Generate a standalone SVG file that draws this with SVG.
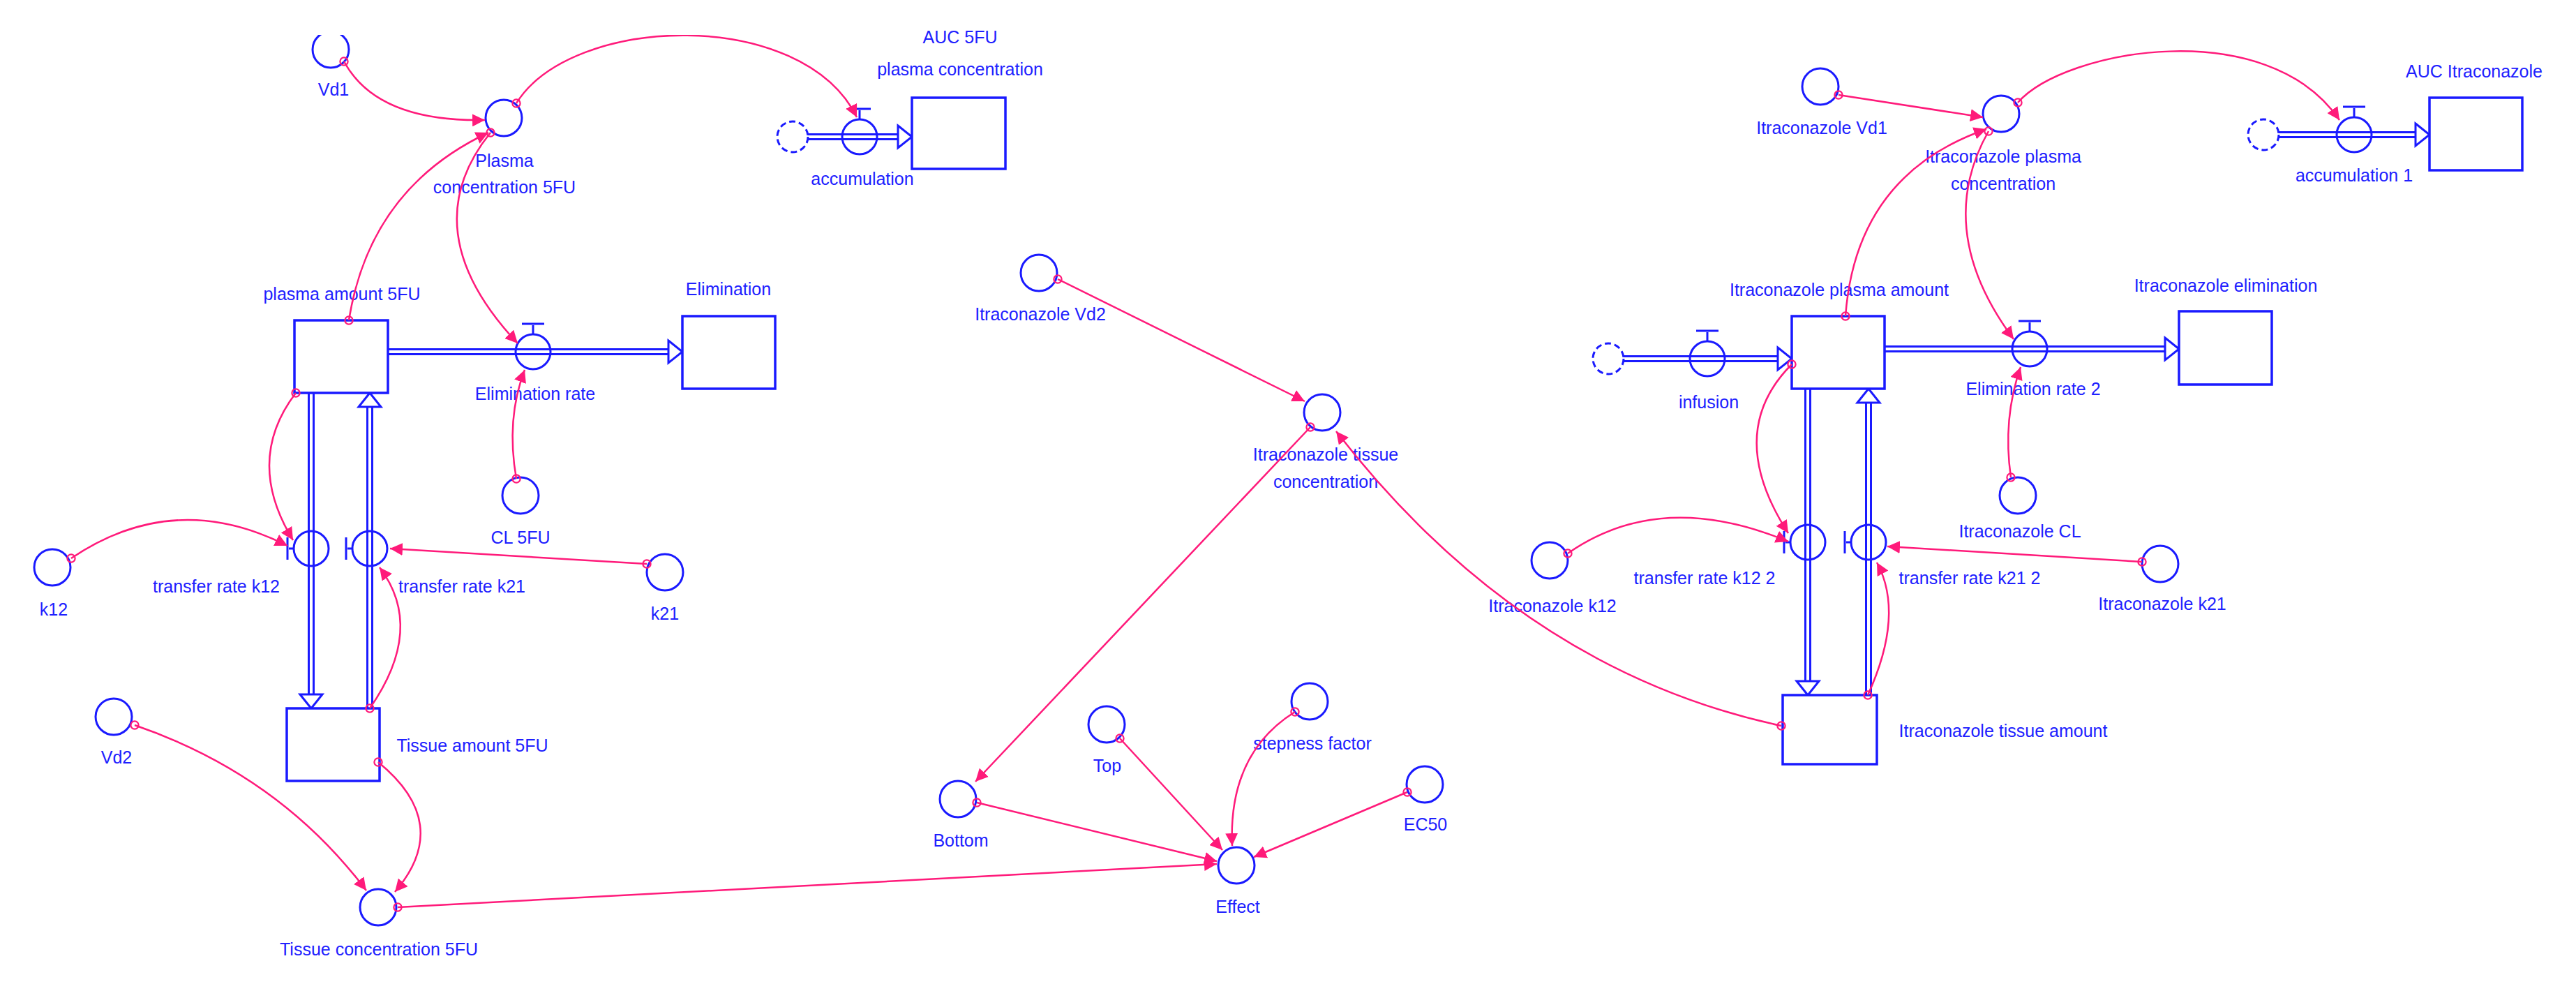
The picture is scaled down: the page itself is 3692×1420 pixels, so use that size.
<svg xmlns="http://www.w3.org/2000/svg" width="3692" height="1420" viewBox="0 0 3692 1420">
<style>
text{font-family:"Liberation Sans",Arial,sans-serif;font-size:25px;fill:#2020ff;text-anchor:middle}
.n{fill:none;stroke:#1a1aff;stroke-width:3}
.box{fill:#fff;stroke:#1a1aff;stroke-width:3.5}
.po{fill:none;stroke:#1a1aff;stroke-width:10}
.pi{fill:none;stroke:#fff;stroke-width:4}
.ah{fill:#fff;stroke:#1a1aff;stroke-width:3}
.cl{fill:#fff;stroke:#1a1aff;stroke-width:3;stroke-dasharray:9 5}
.c{fill:none;stroke:#ff1a7a;stroke-width:2.5;marker-start:url(#o);marker-end:url(#a)}
</style>
<defs>
<marker id="a" viewBox="0 0 10 10" refX="10" refY="5" markerWidth="18" markerHeight="18" markerUnits="userSpaceOnUse" orient="auto"><path d="M0,0 L10,5 L0,10 z" fill="#ff1a7a"/></marker>
<marker id="o" viewBox="0 0 10 10" refX="5" refY="5" markerWidth="14" markerHeight="14" markerUnits="userSpaceOnUse"><circle cx="5" cy="5" r="4" fill="none" stroke="#ff1a7a" stroke-width="1.6"/></marker>
<clipPath id="clip"><rect x="0" y="50" width="3692" height="1370"/></clipPath>
</defs>
<rect width="3692" height="1420" fill="#fff"/>

<g id="flows">
<path class="po" d="M556,504 H972"/><path class="pi" d="M556,504 H972"/>
<polygon class="ah" points="958,488 978,504 958,520"/>
<path class="po" d="M1158,196 H1300"/><path class="pi" d="M1158,196 H1300"/>
<polygon class="ah" points="1287,180 1307,196 1287,212"/>
<path class="po" d="M446,563 V1009"/><path class="pi" d="M446,563 V1009"/>
<polygon class="ah" points="430,995 446,1015 462,995"/>
<path class="po" d="M530,1015 V569"/><path class="pi" d="M530,1015 V569"/>
<polygon class="ah" points="514,583 530,563 546,583"/>
<path class="po" d="M2701,500 H3117"/><path class="pi" d="M2701,500 H3117"/>
<polygon class="ah" points="3103,484 3123,500 3103,516"/>
<path class="po" d="M3266,193 H3476"/><path class="pi" d="M3266,193 H3476"/>
<polygon class="ah" points="3462,177 3482,193 3462,209"/>
<path class="po" d="M2327,514 H2562"/><path class="pi" d="M2327,514 H2562"/>
<polygon class="ah" points="2548,498 2568,514 2548,530"/>
<path class="po" d="M2591,557 V990"/><path class="pi" d="M2591,557 V990"/>
<polygon class="ah" points="2575,976 2591,996 2607,976"/>
<path class="po" d="M2678,996 V563"/><path class="pi" d="M2678,996 V563"/>
<polygon class="ah" points="2662,577 2678,557 2694,577"/>
</g>

<g id="plasma_amount_5FU"><rect class="box" x="422" y="459" width="134" height="104"/><text x="490" y="430">plasma amount 5FU</text></g>
<g id="Elimination"><rect class="box" x="978" y="453" width="133" height="104"/><text x="1044" y="423">Elimination</text></g>
<g id="AUC_5FU"><rect class="box" x="1307" y="140" width="134" height="102"/><text x="1376" y="62">AUC 5FU</text><text x="1376" y="108">plasma concentration</text></g>
<g id="Tissue_amount_5FU"><rect class="box" x="411" y="1015" width="133" height="104"/><text x="677" y="1077">Tissue amount 5FU</text></g>
<g id="Itraconazole_plasma_amount"><rect class="box" x="2568" y="453" width="133" height="104"/><text x="2636" y="424">Itraconazole plasma amount</text></g>
<g id="Itraconazole_elimination"><rect class="box" x="3123" y="446" width="133" height="105"/><text x="3190" y="418">Itraconazole elimination</text></g>
<g id="AUC_Itraconazole"><rect class="box" x="3482" y="140" width="133" height="104"/><text x="3546" y="111">AUC Itraconazole</text></g>
<g id="Itraconazole_tissue_amount"><rect class="box" x="2555" y="996" width="135" height="99"/><text x="2871" y="1056">Itraconazole tissue amount</text></g>

<g id="clouds">
<circle class="cl" cx="1136" cy="196" r="22"/>
<circle class="cl" cx="3244" cy="193" r="22"/>
<circle class="cl" cx="2305" cy="514" r="22"/>
</g>

<g id="Elimination_rate"><circle class="n" cx="764" cy="504" r="25"/><path class="n" d="M764,479 V466 M748,464 H780"/><text x="767" y="573">Elimination rate</text></g>
<g id="accumulation"><circle class="n" cx="1232" cy="196" r="25"/><path class="n" d="M1232,171 V158 M1216,156 H1248"/><text x="1236" y="265">accumulation</text></g>
<g id="transfer_rate_k12"><circle class="n" cx="446" cy="786" r="25"/><path class="n" d="M421,786 H414 M412,770 V802"/><text x="310" y="849">transfer rate k12</text></g>
<g id="transfer_rate_k21"><circle class="n" cx="530" cy="786" r="25"/><path class="n" d="M505,786 H498 M496,770 V802"/><text x="662" y="849">transfer rate k21</text></g>
<g id="Elimination_rate_2"><circle class="n" cx="2909" cy="500" r="25"/><path class="n" d="M2909,475 V462 M2893,460 H2925"/><text x="2914" y="566">Elimination rate 2</text></g>
<g id="accumulation_1"><circle class="n" cx="3374" cy="193" r="25"/><path class="n" d="M3374,168 V155 M3358,153 H3390"/><text x="3374" y="260">accumulation 1</text></g>
<g id="infusion"><circle class="n" cx="2447" cy="514" r="25"/><path class="n" d="M2447,489 V476 M2431,474 H2463"/><text x="2449" y="585">infusion</text></g>
<g id="transfer_rate_k12_2"><circle class="n" cx="2591" cy="777" r="25"/><path class="n" d="M2566,777 H2559 M2557,761 V793"/><text x="2443" y="837">transfer rate k12 2</text></g>
<g id="transfer_rate_k21_2"><circle class="n" cx="2678" cy="777" r="25"/><path class="n" d="M2653,777 H2646 M2644,761 V793"/><text x="2823" y="837">transfer rate k21 2</text></g>

<g id="Vd1"><circle class="n" cx="474" cy="71" r="26" clip-path="url(#clip)"/><text x="478" y="137">Vd1</text></g>
<g id="Plasma_concentration_5FU"><circle class="n" cx="722" cy="169" r="26"/><text x="723" y="239">Plasma</text><text x="723" y="277">concentration 5FU</text></g>
<g id="CL_5FU"><circle class="n" cx="746" cy="710" r="26"/><text x="746" y="779">CL 5FU</text></g>
<g id="k12"><circle class="n" cx="75" cy="813" r="26"/><text x="77" y="882">k12</text></g>
<g id="k21"><circle class="n" cx="953" cy="820" r="26"/><text x="953" y="888">k21</text></g>
<g id="Vd2"><circle class="n" cx="163" cy="1027" r="26"/><text x="167" y="1094">Vd2</text></g>
<g id="Tissue_concentration_5FU"><circle class="n" cx="542" cy="1300" r="26"/><text x="543" y="1369">Tissue concentration 5FU</text></g>
<g id="Itraconazole_Vd2"><circle class="n" cx="1489" cy="391" r="26"/><text x="1491" y="459">Itraconazole Vd2</text></g>
<g id="Itraconazole_tissue_concentration"><circle class="n" cx="1895" cy="591" r="26"/><text x="1900" y="660">Itraconazole tissue</text><text x="1900" y="699">concentration</text></g>
<g id="Bottom"><circle class="n" cx="1373" cy="1145" r="26"/><text x="1377" y="1213">Bottom</text></g>
<g id="Top"><circle class="n" cx="1586" cy="1038" r="26"/><text x="1587" y="1106">Top</text></g>
<g id="stepness_factor"><circle class="n" cx="1877" cy="1005" r="26"/><text x="1881" y="1074">stepness factor</text></g>
<g id="EC50"><circle class="n" cx="2042" cy="1124" r="26"/><text x="2043" y="1190">EC50</text></g>
<g id="Effect"><circle class="n" cx="1772" cy="1240" r="26"/><text x="1774" y="1308">Effect</text></g>
<g id="Itraconazole_Vd1"><circle class="n" cx="2609" cy="124" r="26"/><text x="2611" y="192">Itraconazole Vd1</text></g>
<g id="Itraconazole_plasma_concentration"><circle class="n" cx="2868" cy="163" r="26"/><text x="2871" y="233">Itraconazole plasma</text><text x="2871" y="272">concentration</text></g>
<g id="Itraconazole_CL"><circle class="n" cx="2892" cy="710" r="26"/><text x="2895" y="770">Itraconazole CL</text></g>
<g id="Itraconazole_k12"><circle class="n" cx="2221" cy="803" r="26"/><text x="2225" y="877">Itraconazole k12</text></g>
<g id="Itraconazole_k21"><circle class="n" cx="3096" cy="808" r="26"/><text x="3099" y="874">Itraconazole k21</text></g>

<g id="connectors">
<path class="c" d="M493,88 Q540,175 695,172"/>
<path class="c" d="M500,459 Q530,270 700,190"/>
<path class="c" d="M703,190 Q590,330 742,492"/>
<path class="c" d="M740,148 C820,20 1150,10 1228,168" clip-path="url(#clip)"/>
<path class="c" d="M740,686 Q725,600 752,530"/>
<path class="c" d="M424,563 Q350,660 420,774"/>
<path class="c" d="M102,800 Q250,700 412,782"/>
<path class="c" d="M927,808 L559,786"/>
<path class="c" d="M530,1015 Q610,900 544,813"/>
<path class="c" d="M193,1039 Q400,1110 525,1276"/>
<path class="c" d="M542,1092 Q650,1180 566,1278"/>
<path class="c" d="M570,1300 L1744,1238"/>
<path class="c" d="M1516,400 L1870,575"/>
<path class="c" d="M1878,612 L1398,1120"/>
<path class="c" d="M2553,1040 Q2180,960 1915,618"/>
<path class="c" d="M1400,1150 L1744,1234"/>
<path class="c" d="M1605,1058 L1752,1218"/>
<path class="c" d="M1856,1020 Q1760,1080 1766,1212"/>
<path class="c" d="M2017,1135 L1797,1228"/>
<path class="c" d="M2635,136 L2842,168"/>
<path class="c" d="M2645,453 Q2660,250 2847,185"/>
<path class="c" d="M2850,188 Q2770,330 2886,486"/>
<path class="c" d="M2892,147 C2960,70 3250,20 3353,172"/>
<path class="c" d="M2882,684 Q2870,600 2896,526"/>
<path class="c" d="M2568,522 Q2470,620 2563,764"/>
<path class="c" d="M2247,793 Q2380,700 2563,776"/>
<path class="c" d="M3070,805 L2705,783"/>
<path class="c" d="M2677,996 Q2730,880 2690,806"/>
</g>
</svg>
